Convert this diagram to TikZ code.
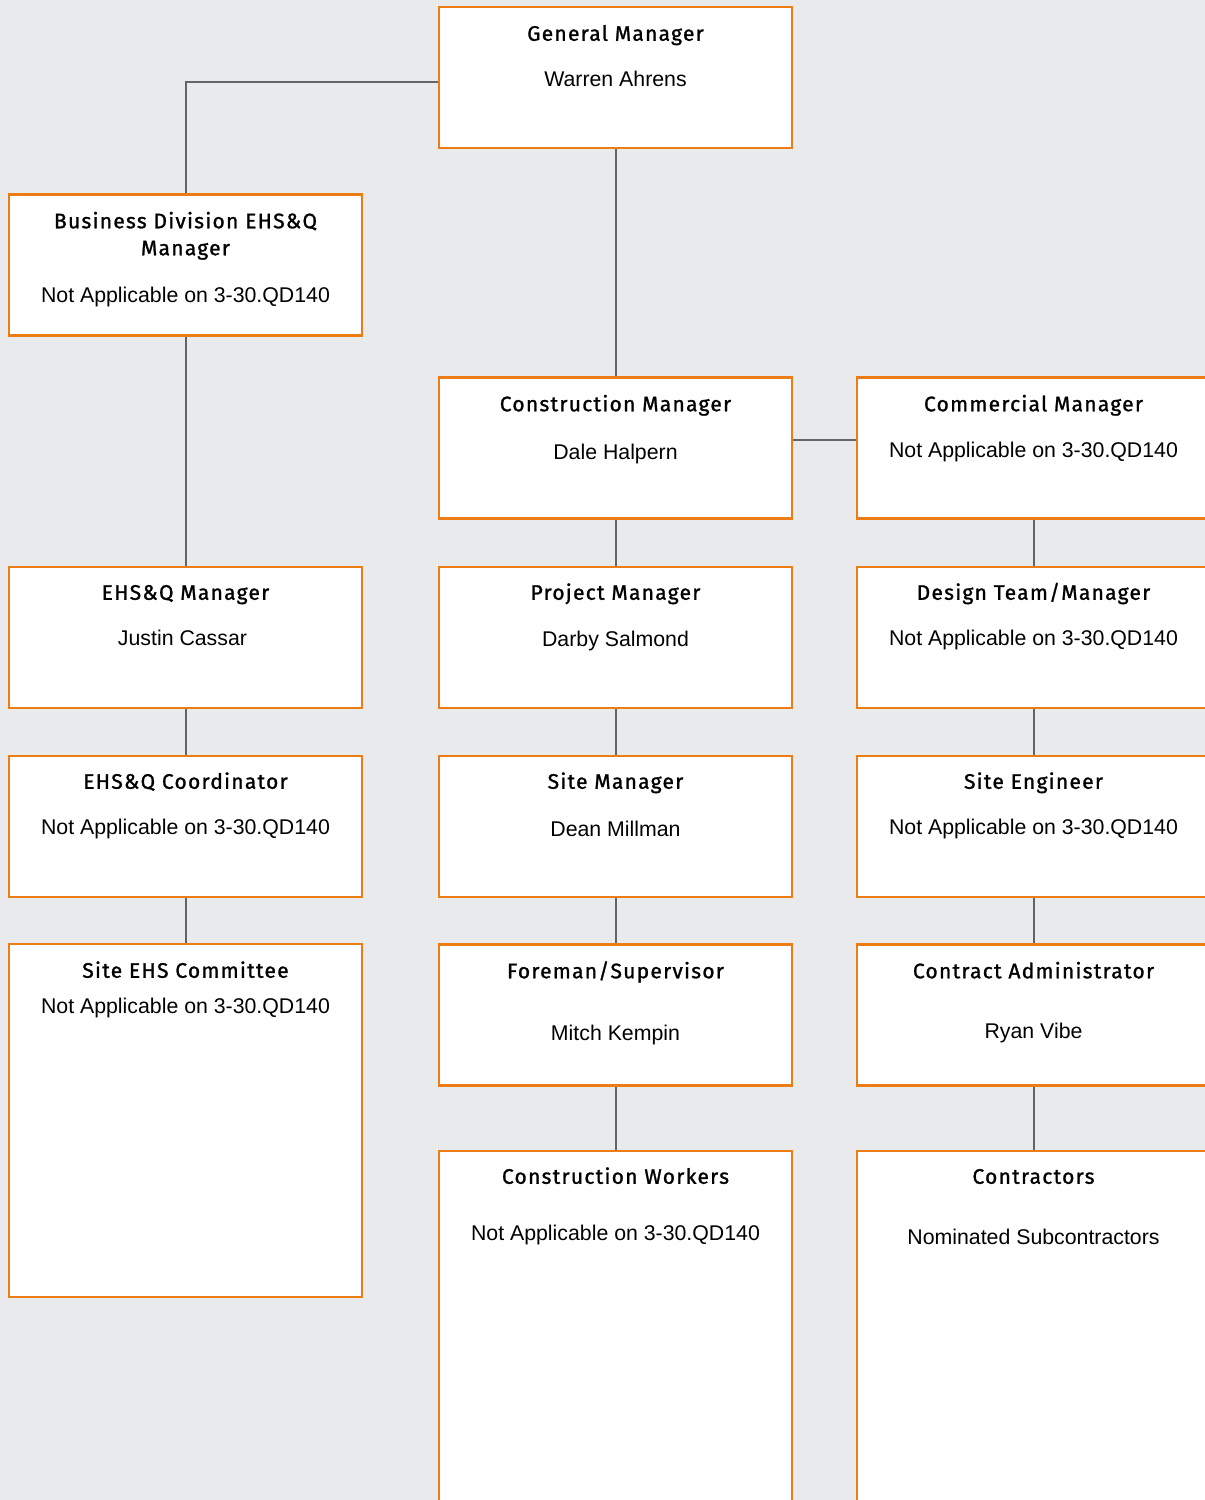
\documentclass[tikz,border=0pt]{standalone}
\usepackage{fontspec}
\setmainfont{Liberation Sans}
\newfontfamily\ttlfont{Fira Sans}[LetterSpace=6, FakeBold=1.2]
\usetikzlibrary{positioning}
\definecolor{bgrey}{RGB}{233,234,236}
\definecolor{borange}{RGB}{236,124,20}
\definecolor{lgrey}{RGB}{100,101,104}
\tikzset{
  post/.style={draw=borange, line width=2.5pt, fill=white, minimum width=353pt, minimum height=141pt, inner sep=0pt},
  ttl/.style={font=\ttlfont\fontsize{21}{27}\selectfont, anchor=base, align=center},
  who/.style={font=\fontsize{21.3}{26}\selectfont, anchor=base},
  link/.style={draw=lgrey, line width=2pt}
}
\begin{document}
\begin{tikzpicture}[x=1pt, y=-1pt]
  \useasboundingbox (0,0) rectangle (1205,1500);
  \fill[bgrey] (0,0) rectangle (1205,1500);
  % boxes
  \node[post] (gm) at (615.5,77.5) {};
  \node[post] (bd) at (185.5,265) {};
  \node[post] (cm) at (615.5,448) {};
  \node[post] (com) at (1033.5,448) {};
  \node[post] (ehsm) at (185.5,637.5) {};
  \node[post] (pm) at (615.5,637.5) {};
  \node[post] (dt) at (1033.5,637.5) {};
  \node[post] (ehsc) at (185.5,826.5) {};
  \node[post] (sm) at (615.5,826.5) {};
  \node[post] (se) at (1033.5,826.5) {};
  \node[post, minimum height=353pt] (sec) at (185.5,1120.5) {};
  \node[post] (fs) at (615.5,1015) {};
  \node[post] (ca) at (1033.5,1015) {};
  \node[post, minimum height=400pt] (cw) at (615.5,1351) {};
  \node[post, minimum height=400pt] (con) at (1033.5,1351) {};
  % connectors
  \draw[link] ([yshift=-4pt]gm.west) -| (bd.north);
  \draw[link] (gm.south) -- (cm.north);
  \draw[link] (bd.south) -- (ehsm.north);
  \draw[link] ([yshift=8pt]cm.east) -- ([yshift=8pt]com.west);
  \draw[link] (cm.south) -- (pm.north);
  \draw[link] (pm.south) -- (sm.north);
  \draw[link] (sm.south) -- (fs.north);
  \draw[link] (fs.south) -- (cw.north);
  \draw[link] (com.south) -- (dt.north);
  \draw[link] (dt.south) -- (se.north);
  \draw[link] (se.south) -- (ca.north);
  \draw[link] (ca.south) -- (con.north);
  \draw[link] (ehsm.south) -- (ehsc.north);
  \draw[link] (ehsc.south) -- (sec.north);
  % texts
  \node[ttl] (gmt) at ([yshift=-35pt]gm.north) {General Manager};
  \node[who] (gmn) at ([yshift=-81pt]gm.north) {Warren Ahrens};
  \node[ttl] (bdt) at ([yshift=-62pt]bd.north) {Business Division EHS\&Q\\Manager};
  \node[who] (bdn) at ([yshift=-109pt]bd.north) {Not Applicable on 3-30.QD140};
  \node[ttl] (cmt) at ([yshift=-35pt]cm.north) {Construction Manager};
  \node[who] (cmn) at ([yshift=-83pt]cm.north) {Dale Halpern};
  \node[ttl] (comt) at ([yshift=-35pt]com.north) {Commercial Manager};
  \node[who] (comn) at ([yshift=-81pt]com.north) {Not Applicable on 3-30.QD140};
  \node[ttl] (ehsmt) at ([yshift=-34pt]ehsm.north) {EHS\&Q Manager};
  \node[who] (ehsmn) at ([xshift=-3pt, yshift=-80pt]ehsm.north) {Justin Cassar};
  \node[ttl] (pmt) at ([yshift=-34pt]pm.north) {Project Manager};
  \node[who] (pmn) at ([yshift=-81pt]pm.north) {Darby Salmond};
  \node[ttl] (dtt) at ([yshift=-34pt]dt.north) {Design Team/Manager};
  \node[who] (dtn) at ([yshift=-80pt]dt.north) {Not Applicable on 3-30.QD140};
  \node[ttl] (ehsct) at ([yshift=-34pt]ehsc.north) {EHS\&Q Coordinator};
  \node[who] (ehscn) at ([yshift=-80pt]ehsc.north) {Not Applicable on 3-30.QD140};
  \node[ttl] (smt) at ([yshift=-34pt]sm.north) {Site Manager};
  \node[who] (smn) at ([yshift=-82pt]sm.north) {Dean Millman};
  \node[ttl] (set) at ([yshift=-34pt]se.north) {Site Engineer};
  \node[who] (sen) at ([yshift=-80pt]se.north) {Not Applicable on 3-30.QD140};
  \node[ttl] (sect) at ([yshift=-35pt]sec.north) {Site EHS Committee};
  \node[who] (secn) at ([yshift=-71pt]sec.north) {Not Applicable on 3-30.QD140};
  \node[ttl] (fst) at ([yshift=-35pt]fs.north) {Foreman/Supervisor};
  \node[who] (fsn) at ([yshift=-97pt]fs.north) {Mitch Kempin};
  \node[ttl] (cat) at ([yshift=-35pt]ca.north) {Contract Administrator};
  \node[who] (can) at ([yshift=-95pt]ca.north) {Ryan Vibe};
  \node[ttl] (cwt) at ([yshift=-34pt]cw.north) {Construction Workers};
  \node[who] (cwn) at ([yshift=-91pt]cw.north) {Not Applicable on 3-30.QD140};
  \node[ttl] (cont) at ([yshift=-34pt]con.north) {Contractors};
  \node[who] (conn) at ([yshift=-95pt]con.north) {Nominated Subcontractors};
\end{tikzpicture}
\end{document}
